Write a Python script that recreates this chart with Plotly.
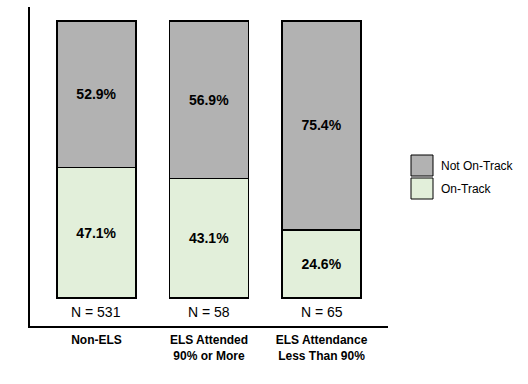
import plotly.graph_objects as go

categories = ["Non-ELS", "ELS Attended<br>90% or More", "ELS Attendance<br>Less Than 90%"]
on_track = [47.1, 43.1, 24.6]
not_on_track = [52.9, 56.9, 75.4]
n_labels = ["N = 531", "N = 58", "N = 65"]
colors = {"On-Track": "#e2efda", "Not On-Track": "#b2b2b2"}

x = list(range(len(categories)))
fig = go.Figure()
for name, vals in [("On-Track", on_track), ("Not On-Track", not_on_track)]:
    fig.add_trace(go.Bar(
        x=x, y=vals, name=name, width=0.7,
        marker=dict(color=colors[name], line=dict(color="black", width=1.5)),
        text=[f"{v:.1f}%" for v in vals], textposition="inside",
        insidetextanchor="middle", textangle=0,
        textfont=dict(family="Arial, Liberation Sans", size=14, color="black", weight="bold"),
        showlegend=False, hoverinfo="skip",
    ))

for xi, lab in zip(x, n_labels):
    fig.add_annotation(x=xi, y=-5, text=lab, showarrow=False, xref="x", yref="y",
                       font=dict(family="Arial, Liberation Sans", size=14, color="black"))

# legend drawn manually
leg = [("Not On-Track", 155, 176), ("On-Track", 178, 199)]
for name, y0, y1 in leg:
    fig.add_shape(type="rect", xref="paper", yref="paper",
                  x0=(411 - 30) / 358, x1=(433 - 30) / 358,
                  y0=(326 - y1) / 319, y1=(326 - y0) / 319,
                  fillcolor=colors[name], line=dict(color="black", width=1))
    fig.add_annotation(xref="paper", yref="paper", x=(439 - 30) / 358, y=(326 - (y0 + y1) / 2) / 319,
                       text=name, showarrow=False, xanchor="left", yanchor="middle",
                       font=dict(family="Arial, Liberation Sans", size=12, color="black"))

fig.update_layout(
    barmode="stack", bargap=0.3,
    width=528, height=384,
    margin=dict(l=30, r=140, t=7, b=58),
    paper_bgcolor="white", plot_bgcolor="white",
    showlegend=False,
    xaxis=dict(range=[-0.591, 2.591], tickvals=x,
               ticktext=[f"<b>{c}</b>" for c in categories],
               showline=True, linecolor="black", linewidth=1.5, ticks="",
               showgrid=False, zeroline=False, ticklabelstandoff=2,
               tickfont=dict(family="Arial, Liberation Sans", size=12, color="black")),
    yaxis=dict(range=[-10.1, 105], showline=True, linecolor="black", linewidth=1.5,
               showticklabels=False, ticks="", showgrid=False, zeroline=False),
)
fig.write_html("out.html", config={"displayModeBar": False},
               post_script="document.body.style.margin='0';document.body.style.overflow='hidden';")
